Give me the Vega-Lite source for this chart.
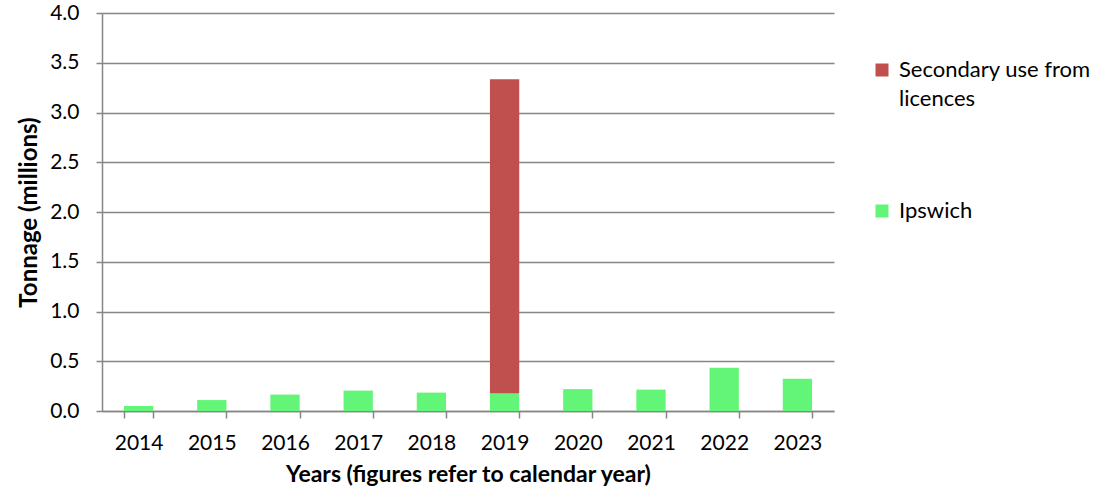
{
  "$schema": "https://vega.github.io/schema/vega-lite/v6.json",
  "width": 732,
  "height": 398,
  "autosize": {"type": "none"},
  "padding": {"left": 102, "top": 13, "right": 278, "bottom": 82},
  "background": "white",
  "config": {
    "font": "Lato",
    "view": {"stroke": null},
    "axis": {"labelFont": "Lato", "titleFont": "Lato", "labelColor": "black", "titleColor": "black", "domainColor": "#868686", "tickColor": "#868686", "gridColor": "#868686", "domainWidth": 1.5, "tickWidth": 1.5, "gridWidth": 1.5}
  },
  "data": {
    "values": [
      {"year": "2014", "series": "Ipswich", "ord": 1, "value": 0.05},
      {"year": "2015", "series": "Ipswich", "ord": 1, "value": 0.11},
      {"year": "2016", "series": "Ipswich", "ord": 1, "value": 0.165},
      {"year": "2017", "series": "Ipswich", "ord": 1, "value": 0.205},
      {"year": "2018", "series": "Ipswich", "ord": 1, "value": 0.185},
      {"year": "2019", "series": "Ipswich", "ord": 1, "value": 0.175},
      {"year": "2019", "series": "Secondary use from licences", "ord": 2, "value": 3.16},
      {"year": "2020", "series": "Ipswich", "ord": 1, "value": 0.22},
      {"year": "2021", "series": "Ipswich", "ord": 1, "value": 0.215},
      {"year": "2022", "series": "Ipswich", "ord": 1, "value": 0.435},
      {"year": "2023", "series": "Ipswich", "ord": 1, "value": 0.325}
    ]
  },
  "mark": {"type": "bar"},
  "encoding": {
    "x": {
      "field": "year", "type": "nominal",
      "scale": {"paddingInner": 0.6, "paddingOuter": 0.3},
      "axis": {"title": "Years (figures refer to calendar year)", "labelAngle": 0, "labelFontSize": 21, "titleFontSize": 23, "titleFontWeight": "bold", "tickBand": "extent", "tickSize": 7, "labelPadding": 14, "titlePadding": 10, "grid": false}
    },
    "y": {
      "field": "value", "type": "quantitative", "stack": "zero",
      "scale": {"domain": [0, 4], "nice": false},
      "axis": {"title": "Tonnage (millions)", "values": [0, 0.5, 1, 1.5, 2, 2.5, 3, 3.5, 4], "format": ".1f", "labelFontSize": 21, "titleFontSize": 24, "titleFontWeight": "bold", "tickSize": 6, "labelPadding": 17, "titlePadding": 8, "grid": true}
    },
    "color": {
      "field": "series", "type": "nominal",
      "scale": {"domain": ["Secondary use from licences", "Ipswich"], "range": ["#C0504D", "#63F577"]},
      "legend": {
        "title": null, "orient": "none", "legendX": 769, "legendY": 46,
        "symbolType": "square", "symbolSize": 169, "symbolStrokeWidth": 0,
        "labelFontSize": 22, "labelFont": "Lato", "labelColor": "black", "labelLimit": 300,
        "labelExpr": "datum.label == 'Secondary use from licences' ? ['Secondary use from', 'licences'] : datum.label",
        "rowPadding": 90, "labelOffset": 6,
        "encoding": {"labels": {"lineHeight": {"value": 29}}}
      }
    },
    "order": {"field": "ord", "type": "quantitative"}
  }
}
